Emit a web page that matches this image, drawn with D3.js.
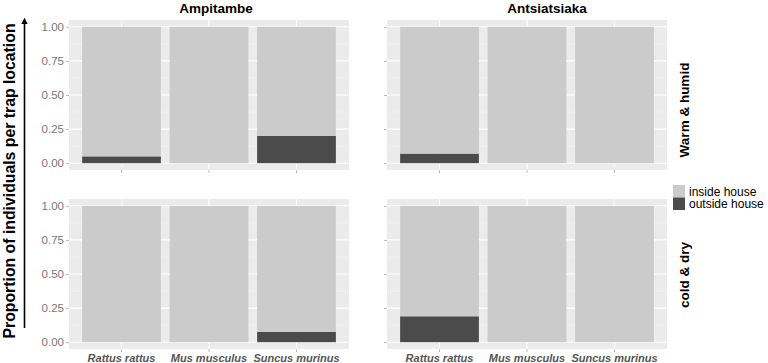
<!DOCTYPE html>
<html>
<head>
<meta charset="utf-8">
<script src="https://cdn.jsdelivr.net/npm/d3@7"></script>
<style>
  body { margin: 0; background: #fff; }
  svg { font-family: "Liberation Sans", Arial, sans-serif; }
</style>
</head>
<body>
<script>

const sites   = ['Ampitambe', 'Antsiatsiaka'];
const seasons = ['Warm & humid', 'cold & dry'];
const species = ['Rattus rattus', 'Mus musculus', 'Suncus murinus'];
const locations = ['inside house', 'outside house'];

// proportion caught outside the house, per species (rest is inside)
const outsideAmpitambeWarm    = [0.05, 0, 0.20];
const outsideAntsiatsiakaWarm = [0.07, 0, 0];
const outsideAmpitambeCold    = [0, 0, 0.075];
const outsideAntsiatsiakaCold = [0.19, 0, 0];

const yTicks = [0, 0.25, 0.5, 0.75, 1];

const panels = [
  { site: 0, season: 0, outside: outsideAmpitambeWarm },
  { site: 1, season: 0, outside: outsideAntsiatsiakaWarm },
  { site: 0, season: 1, outside: outsideAmpitambeCold },
  { site: 1, season: 1, outside: outsideAntsiatsiakaCold }
];

const WIDTH = 768, HEIGHT = 363;
const colX = [69, 387], PW = 280;
const rowY = [20, 199], PH = 150;

const fill = d3.scaleOrdinal().domain(locations).range(['#cbcbcb', '#4b4b4b']);

const svg = d3.select('body').append('svg')
  .attr('width', WIDTH)
  .attr('height', HEIGHT);

const x = d3.scaleBand().domain(species).range([0, PW]).paddingInner(0.1).paddingOuter(0.15);
const y = d3.scaleLinear().domain([-0.05, 1.05]).range([PH, 0]);

panels.forEach((p) => {
  const g = svg.append('g')
    .attr('transform', `translate(${colX[p.site]}, ${rowY[p.season]})`);

  g.append('rect').attr('width', PW).attr('height', PH).attr('fill', '#ebebeb');

  // minor grid
  g.selectAll('.minor')
    .data([0.125, 0.375, 0.625, 0.875])
    .enter().append('line')
      .attr('x1', 0).attr('x2', PW)
      .attr('y1', (d) => y(d)).attr('y2', (d) => y(d))
      .attr('stroke', '#f5f5f5').attr('stroke-width', 0.6);

  // major grid
  g.selectAll('.major')
    .data(yTicks)
    .enter().append('line')
      .attr('x1', 0).attr('x2', PW)
      .attr('y1', (d) => y(d)).attr('y2', (d) => y(d))
      .attr('stroke', '#fff').attr('stroke-width', 1.1);

  g.selectAll('.vgrid')
    .data(species)
    .enter().append('line')
      .attr('x1', (d) => x(d) + x.bandwidth() / 2).attr('x2', (d) => x(d) + x.bandwidth() / 2)
      .attr('y1', 0).attr('y2', PH)
      .attr('stroke', '#fff').attr('stroke-width', 1.1);

  const rows = species.map((s, i) => ({ species: s, 'outside house': p.outside[i], 'inside house': 1 - p.outside[i] }));
  const stack = d3.stack().keys(['outside house', 'inside house'])(rows);

  g.selectAll('.layer')
    .data(stack)
    .enter().append('g')
      .attr('fill', (d) => fill(d.key))
    .selectAll('rect')
    .data((d) => d.filter((v) => v[1] - v[0] > 0))
    .enter().append('rect')
      .attr('x', (d) => x(d.data.species))
      .attr('width', x.bandwidth())
      .attr('y', (d) => y(d[1]))
      .attr('height', (d) => y(d[0]) - y(d[1]));

  // axes
  const yAxis = g.append('g')
    .call(d3.axisLeft(y).tickValues(yTicks).tickSize(3).tickPadding(2)
      .tickFormat(p.site === 0 ? d3.format('.2f') : ''));
  const xAxis = g.append('g')
    .attr('transform', `translate(0, ${PH})`)
    .call(d3.axisBottom(x).tickSize(3).tickPadding(2)
      .tickFormat(p.season === 1 ? (d) => d : ''));

  [yAxis, xAxis].forEach((a) => {
    a.select('.domain').remove();
    a.selectAll('.tick line').attr('stroke', '#aaa').attr('stroke-width', 0.8);
  });
  yAxis.selectAll('.tick text')
    .attr('fill', '#777').style('font-size', '11.5px');
  xAxis.selectAll('.tick text')
    .attr('fill', '#555')
    .style('font-size', '11px')
    .style('font-weight', 'bold')
    .style('font-style', 'italic');
});

// strip labels
svg.selectAll('.strip-x')
  .data(sites)
  .enter().append('text')
    .attr('x', (d, i) => colX[i] + PW / 2 + (i === 0 ? 7 : 20))
    .attr('y', 13)
    .attr('text-anchor', 'middle')
    .style('font-size', '13.5px')
    .style('font-weight', 'bold')
    .text((d) => d);

svg.selectAll('.strip-y')
  .data(seasons)
  .enter().append('text')
    .attr('transform', (d, i) => `translate(${689}, ${rowY[i] + PH / 2 + (i === 0 ? 15 : 1)}) rotate(-90)`)
    .attr('text-anchor', 'middle')
    .style('font-size', '13.5px')
    .style('font-weight', 'bold')
    .text((d) => d);

// y title with arrow
svg.append('text')
  .attr('transform', 'translate(15, 181) rotate(-90)')
  .attr('text-anchor', 'middle')
  .style('font-size', '15.8px')
  .style('font-weight', 'bold')
  .text('Proportion of individuals per trap location');

svg.append('defs').append('marker')
  .attr('id', 'head')
  .attr('viewBox', '0 0 10 10')
  .attr('refX', 5).attr('refY', 5)
  .attr('markerWidth', 4).attr('markerHeight', 5)
  .attr('orient', 'auto')
  .append('path')
    .attr('d', 'M0,0 L10,5 L0,10 z')
    .attr('fill', '#000');

svg.append('line')
  .attr('x1', 24.5).attr('x2', 24.5)
  .attr('y1', 328).attr('y2', 21)
  .attr('stroke', '#000').attr('stroke-width', 1.6)
  .attr('marker-end', 'url(#head)');

// legend
const legend = svg.append('g').attr('transform', 'translate(673, 185)');
legend.selectAll('rect')
  .data(locations)
  .enter().append('rect')
    .attr('y', (d, i) => i * 12.5)
    .attr('width', 12).attr('height', 12.5)
    .attr('fill', (d) => fill(d));
legend.selectAll('text')
  .data(locations)
  .enter().append('text')
    .attr('x', 16)
    .attr('y', (d, i) => i * 12.5 + 10.5)
    .style('font-size', '12px')
    .text((d) => d);

</script>
</body>
</html>
